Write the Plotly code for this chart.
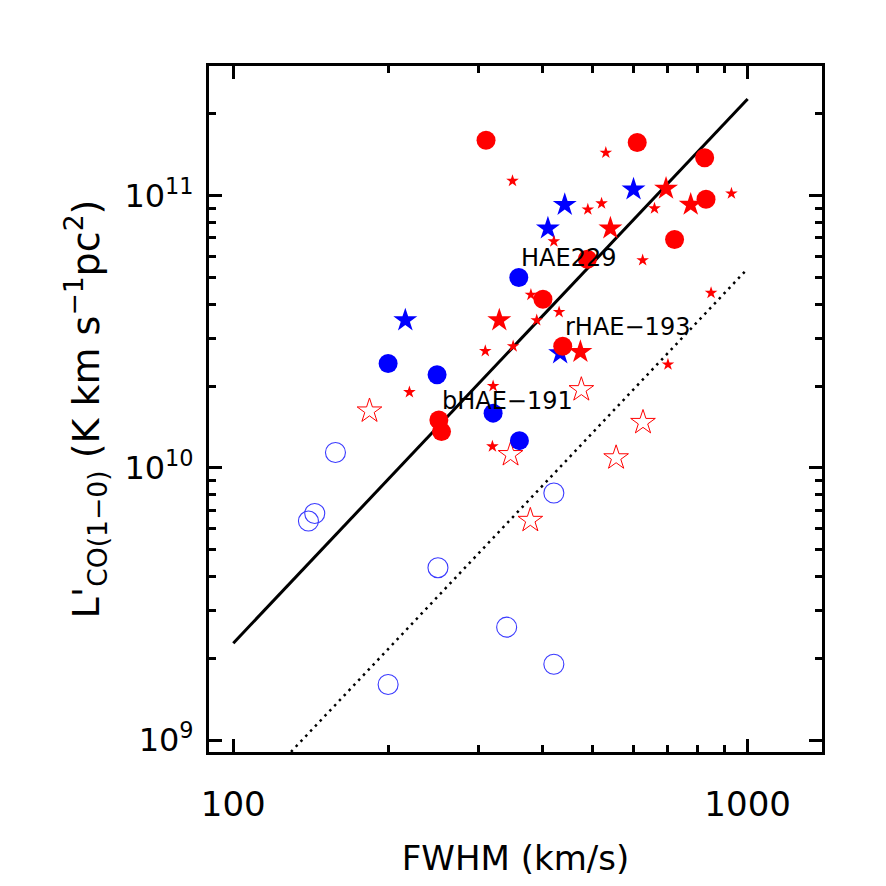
import math
import plotly.graph_objects as go

# ---------------- data (FWHM in km/s, L'CO(1-0) in K km s^-1 pc^2) ----------------
red_circle_fwhm = [310, 610, 825, 830, 721, 488, 400, 437, 251, 254]
red_circle_lco = [1.60e11, 1.57e11, 1.38e11, 9.72e10, 6.91e10, 5.85e10, 4.17e10, 2.80e10, 1.50e10, 1.36e10]

blue_circle_fwhm = [359, 200, 249, 320, 360]
blue_circle_lco = [5.01e10, 2.42e10, 2.20e10, 1.59e10, 1.26e10]

blue_star_fwhm = [600, 441, 409, 216, 432]
blue_star_lco = [1.056e11, 9.27e10, 7.59e10, 3.49e10, 2.64e10]

red_star_fwhm = [694, 775, 541, 329, 473]
red_star_lco = [1.063e11, 9.28e10, 7.59e10, 3.49e10, 2.67e10]

red_small_star_fwhm = [349, 530, 520, 489, 930, 659, 420, 625, 849, 379,
                       430, 389, 309, 350, 220, 320, 319, 700]
red_small_star_lco = [1.135e11, 1.44e11, 9.38e10, 8.91e10, 1.02e11, 8.99e10, 6.80e10, 5.80e10, 4.40e10, 4.33e10,
                      3.74e10, 3.49e10, 2.69e10, 2.80e10, 1.90e10, 2.00e10, 1.20e10, 2.40e10]

open_circle_fwhm = [158, 144, 140, 250, 420, 340, 420, 200]
open_circle_lco = [1.14e10, 6.80e9, 6.38e9, 4.30e9, 8.09e9, 2.60e9, 1.90e9, 1.60e9]

open_star_fwhm = [184, 346, 475, 626, 555, 378]
open_star_lco = [1.62e10, 1.12e10, 1.94e10, 1.47e10, 1.09e10, 6.42e9]

# relation lines: L' = norm * (FWHM/100)^2
line_fwhm = [100, 1000]
solid_norm = 2.27e9
dotted_norm = 5.4e8

label_text = ["HAE229", "rHAE\u2212193", "bHAE\u2212191"]
label_fwhm = [359, 438, 252]
label_lco = [5.89e10, 3.30e10, 1.76e10]

x_tickvals = [100, 1000]
x_ticktext = ["100", "1000"]
x_minor = [200, 300, 400, 500, 600, 700, 800, 900]
y_tickvals = [1e9, 1e10, 1e11]
y_ticktext = ["10<sup>9</sup>", "10<sup>10</sup>", "10<sup>11</sup>"]
y_minor = [m * 10 ** e for e in (9, 10) for m in range(2, 10)] + [2e11]

FONT = "DejaVu Sans"

fig = go.Figure()

fig.add_trace(go.Scatter(x=line_fwhm, y=[solid_norm * (v / 100) ** 2 for v in line_fwhm],
                         mode="lines", line=dict(color="black", width=3), showlegend=False))
fig.add_trace(go.Scatter(x=line_fwhm, y=[dotted_norm * (v / 100) ** 2 for v in line_fwhm],
                         mode="lines", line=dict(color="black", width=2.5, dash="2.5px,4.5px"),
                         showlegend=False))

fig.add_trace(go.Scatter(x=open_circle_fwhm, y=open_circle_lco, mode="markers",
                         marker=dict(symbol="circle-open", size=20, color="#3a3aff", line=dict(width=1.1)),
                         showlegend=False))
fig.add_trace(go.Scatter(x=open_star_fwhm, y=open_star_lco, mode="markers",
                         marker=dict(symbol="star-open", size=18.5, color="red", line=dict(width=1)),
                         showlegend=False))
fig.add_trace(go.Scatter(x=blue_star_fwhm, y=blue_star_lco, mode="markers",
                         marker=dict(symbol="star", size=18, color="blue", line=dict(width=0)),
                         showlegend=False))
fig.add_trace(go.Scatter(x=red_small_star_fwhm, y=red_small_star_lco, mode="markers",
                         marker=dict(symbol="star", size=9.5, color="red", line=dict(width=0)),
                         showlegend=False))
fig.add_trace(go.Scatter(x=red_star_fwhm, y=red_star_lco, mode="markers",
                         marker=dict(symbol="star", size=18, color="red", line=dict(width=0)),
                         showlegend=False))
fig.add_trace(go.Scatter(x=blue_circle_fwhm, y=blue_circle_lco, mode="markers",
                         marker=dict(symbol="circle", size=19, color="blue", line=dict(width=0)),
                         showlegend=False))
fig.add_trace(go.Scatter(x=red_circle_fwhm, y=red_circle_lco, mode="markers",
                         marker=dict(symbol="circle", size=19, color="red", line=dict(width=0)),
                         showlegend=False))

for t, lx, ly in zip(label_text, label_fwhm, label_lco):
    fig.add_annotation(x=math.log10(lx), y=math.log10(ly), xref="x", yref="y", text=t,
                       showarrow=False, xanchor="left", yanchor="middle",
                       font=dict(family=FONT, size=24, color="black"))

axis_common = dict(
    showline=True, linecolor="black", linewidth=3, mirror="allticks",
    ticks="inside", ticklen=13, tickwidth=2.5, tickcolor="black",
    showgrid=False, zeroline=False,
)

fig.update_xaxes(
    type="log", range=[math.log10(89.7), math.log10(1395)],
    tickmode="array", tickvals=x_tickvals, ticktext=x_ticktext,
    minor=dict(tickmode="array", tickvals=x_minor, ticks="inside", ticklen=7, tickwidth=2.5,
               tickcolor="black", showgrid=False),
    tickfont=dict(family=FONT, size=34, color="black"),
    ticklabelstandoff=20,
    title=dict(text="FWHM (km/s)", font=dict(family=FONT, size=34, color="black"), standoff=24),
    **axis_common,
)
fig.update_yaxes(
    type="log", range=[math.log10(9.04e8), math.log10(3.0e11)],
    tickmode="array", tickvals=y_tickvals, ticktext=y_ticktext,
    minor=dict(tickmode="array", tickvals=y_minor, ticks="inside", ticklen=7, tickwidth=2.5,
               tickcolor="black", showgrid=False),
    tickfont=dict(family=FONT, size=32, color="black"),
    ticklabelstandoff=6,
    title=dict(text="L'<sub>CO(1\u22120)</sub> (K km s<sup>\u22121</sup>pc<sup>2</sup>)",
               font=dict(family=FONT, size=38, color="black"), standoff=14),
    **axis_common,
)

fig.update_layout(
    width=886, height=886,
    margin=dict(l=209, r=64, t=66, b=134),
    paper_bgcolor="white", plot_bgcolor="white",
    showlegend=False,
)

fig.write_html("out.html")
